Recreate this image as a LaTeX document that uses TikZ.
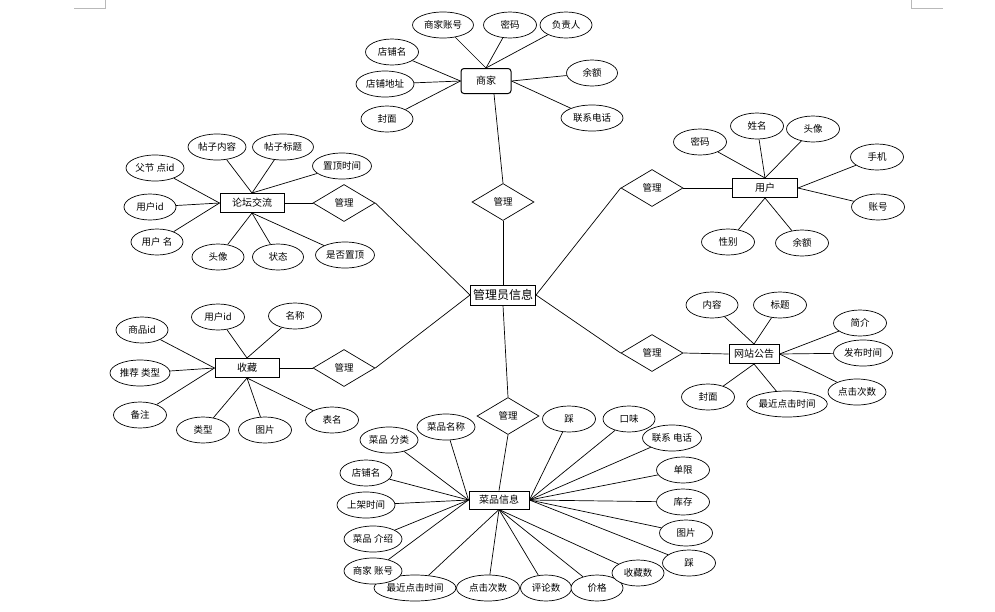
\documentclass[tikz,border=0pt]{standalone}
\usepackage{fontspec}
\newfontfamily\cjk{Noto Sans CJK SC}
\usetikzlibrary{shapes.geometric,backgrounds}
\tikzset{
  attr/.style={ellipse, draw, fill=white, line width=0.7pt, minimum height=26pt, minimum width=53pt, inner sep=0pt, font=\cjk\fontsize{9.5}{11}\selectfont},
  ent/.style={rectangle, draw, fill=white, line width=1pt, minimum height=19pt, inner sep=0pt, font=\cjk\fontsize{10}{12}\selectfont},
  rel/.style={diamond, draw, fill=white, line width=0.7pt, minimum width=62pt, minimum height=37pt, inner sep=0pt, font=\cjk\fontsize{9.5}{11}\selectfont},
  link/.style={draw, line width=0.7pt},
  cornermark/.style={draw=gray!55, line width=0.7pt}
}
\begin{document}
\begin{tikzpicture}[x=1pt,y=-1pt]
\useasboundingbox (0,0) rectangle (995,611);
\draw[cornermark] (74,8) -- (105,8) -- (105,0);
\draw[cornermark] (911,0) -- (911,8) -- (943,8);

% central
\node[ent, minimum width=65pt, minimum height=20pt, font=\cjk\fontsize{12}{14}\selectfont] (admin) at (503,295) {管理员信息};

% merchant
\node[ent, rounded corners=3pt, minimum width=50pt, minimum height=25pt] (m) at (486,81) {商家};
\node[attr, minimum width=61pt] (ma1) at (443,25) {商家账号};
\node[attr] (ma2) at (510,25) {密码};
\node[attr, minimum width=52pt] (ma3) at (566,25) {负责人};
\node[attr] (ma4) at (392,52) {店铺名};
\node[attr, minimum width=58pt] (ma5) at (385,84) {店铺地址};
\node[attr, minimum width=52pt] (ma6) at (387,119) {封面};
\node[attr, minimum width=51pt] (ma7) at (592,73) {余额};
\node[attr, minimum width=62pt] (ma8) at (592,118) {联系电话};
\node[rel] (d1) at (503,202) {管理};

% forum
\node[ent, minimum width=64pt] (f) at (252,203) {论坛交流};
\node[attr, minimum width=58pt] (fa1) at (155,168) {父节 点id};
\node[attr, minimum width=58pt] (fa2) at (217,147) {帖子内容};
\node[attr, minimum width=61pt] (fa3) at (283,147) {帖子标题};
\node[attr, minimum width=59pt] (fa4) at (342,166) {置顶时间};
\node[attr, minimum width=52pt] (fa5) at (150,207) {用户id};
\node[attr, minimum width=52pt] (fa6) at (157,242) {用户 名};
\node[attr, minimum width=52pt] (fa7) at (218,257) {头像};
\node[attr, minimum width=51pt] (fa8) at (278,257) {状态};
\node[attr, minimum width=59pt] (fa9) at (345,255) {是否置顶};
\node[rel] (d2) at (344,203) {管理};

% user
\node[ent, minimum width=65pt] (u) at (765,188) {用户};
\node[attr] (ua1) at (700,142) {密码};
\node[attr] (ua2) at (757,126) {姓名};
\node[attr] (ua3) at (813,129) {头像};
\node[attr] (ua4) at (877,157) {手机};
\node[attr] (ua5) at (878,207) {账号};
\node[attr] (ua6) at (728,242) {性别};
\node[attr] (ua7) at (802,243) {余额};
\node[rel] (d3) at (652,188) {管理};

% collection
\node[ent, minimum width=64pt] (c) at (247,368) {收藏};
\node[attr, minimum width=52pt] (ca1) at (142,330) {商品id};
\node[attr] (ca2) at (218,317) {用户id};
\node[attr] (ca3) at (295,316) {名称};
\node[attr, minimum width=60pt] (ca4) at (140,373) {推荐 类型};
\node[attr] (ca5) at (140,415) {备注};
\node[attr] (ca6) at (203,430) {类型};
\node[attr] (ca7) at (265,430) {图片};
\node[attr] (ca8) at (332,420) {表名};
\node[rel] (d4) at (344,368) {管理};

% announcement
\node[ent, minimum width=50pt] (w) at (754,354) {网站公告};
\node[attr, minimum width=52pt] (wa1) at (712,305) {内容};
\node[attr] (wa2) at (780,305) {标题};
\node[attr] (wa3) at (860,323) {简介};
\node[attr, minimum width=59pt] (wa4) at (863,353) {发布时间};
\node[attr, minimum width=58pt] (wa5) at (857,392) {点击次数};
\node[attr] (wa6) at (708,397) {封面};
\node[attr, minimum width=78pt] (wa7) at (787,404) {最近点击时间};
\node[rel] (d5) at (652,353) {管理};

% dish
\node[ent, minimum width=60pt, minimum height=18pt] (p) at (499,500) {菜品信息};
\node[rel] (d6) at (508,416) {管理};
\node[attr, minimum width=58pt] (pa1) at (389,440) {菜品 分类};
\node[attr, minimum width=58pt] (pa2) at (446,427) {菜品名称};
\node[attr, minimum width=52pt] (pa3) at (366,473) {店铺名};
\node[attr, minimum width=58pt] (pa4) at (366,505) {上架时间};
\node[attr, minimum width=58pt] (pa5) at (373,539) {菜品 介绍};
\node[attr, minimum width=82pt] (pa7) at (415,588) {最近点击时间};
\node[attr, minimum width=58pt] (pa6) at (373,571) {商家 账号};
\node[attr, minimum width=63pt] (pa8) at (488,588) {点击次数};
\node[attr, minimum width=51pt] (pa9) at (546,588) {评论数};
\node[attr, minimum width=52pt] (pa10) at (597,588) {价格};
\node[attr, minimum width=52pt] (pa11) at (638,573) {收藏数};
\node[attr] (pa13) at (686,533) {图片};
\node[attr] (pa12) at (689,563) {踩};
\node[attr] (pa14) at (683,502) {库存};
\node[attr] (pa15) at (683,470) {单限};
\node[attr, minimum width=52pt] (pa17) at (629,419) {口味};
\node[attr, minimum width=59pt] (pa16) at (672,438) {联系 电话};
\node[attr] (pa18) at (569,419) {踩};

\begin{scope}[on background layer]
% merchant links
\foreach \a in {ma1,ma2,ma3} \draw[link] (\a) -- (m.north);
\foreach \a in {ma4,ma5,ma6} \draw[link] (\a) -- (m.west);
\foreach \a in {ma7,ma8} \draw[link] (\a) -- (m.east);
\draw[link] ([xshift=8pt]m.south) -- (d1.north);
\draw[link] (d1.south) -- (admin.north);
% forum links
\foreach \a in {fa2,fa3,fa4} \draw[link] (\a) -- (f.north);
\foreach \a in {fa1,fa5,fa6} \draw[link] (\a) -- (f.west);
\foreach \a in {fa7,fa8,fa9} \draw[link] (\a) -- (f.south);
\draw[link] (f.east) -- (d2.west);
\draw[link] (d2.east) -- (admin.west);
% user links
\foreach \a in {ua1,ua2,ua3} \draw[link] (\a) -- (u.north);
\foreach \a in {ua4,ua5} \draw[link] (\a) -- (u.east);
\foreach \a in {ua6,ua7} \draw[link] (\a) -- (u.south);
\draw[link] (d3.east) -- (u.west);
\draw[link] (d3.west) -- (admin.east);
% collection links
\foreach \a in {ca2,ca3} \draw[link] (\a) -- (c.north);
\foreach \a in {ca1,ca4,ca5} \draw[link] (\a) -- (c.west);
\foreach \a in {ca6,ca7,ca8} \draw[link] (\a) -- (c.south);
\draw[link] (c.east) -- (d4.west);
\draw[link] (d4.east) -- (admin.west);
% announcement links
\foreach \a in {wa1,wa2} \draw[link] (\a) -- (w.north);
\foreach \a in {wa3,wa4,wa5} \draw[link] (\a) -- (w.east);
\foreach \a in {wa6,wa7} \draw[link] (\a) -- (w.south);
\draw[link] (d5.east) -- (w.west);
\draw[link] (d5.west) -- (admin.east);
% dish links
\draw[link] (admin.south) -- (d6.north);
\draw[link] (d6.south) -- (p.north);
\foreach \a in {pa1,pa2,pa3,pa4,pa5,pa6} \draw[link] (\a) -- (p.west);
\foreach \a in {pa7,pa8,pa9,pa10,pa11} \draw[link] (\a) -- (p.south);
\foreach \a in {pa12,pa13,pa14,pa15,pa16,pa17,pa18} \draw[link] (\a) -- (p.east);
\end{scope}
\end{tikzpicture}
\end{document}
